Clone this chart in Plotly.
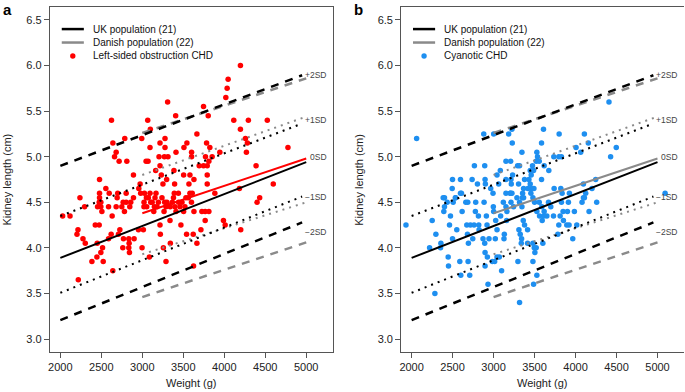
import plotly.graph_objects as go

# ---------------- data ----------------
# Panel a: Left-sided obstruction CHD (weight g, kidney length cm)
a_weight = [4197, 4047, 4035, 4019, 3309, 3747, 3804, 3407, 2624, 3066, 4116, 4294, 4525, 4197, 3098,
            3666, 2641, 2786, 2993, 3277, 3216, 3544, 3784, 4258, 4282, 2681, 2661, 2717, 2811, 3094,
            3277, 3508, 3824, 4777, 4270, 3946, 3411, 3204, 3269, 3313, 3601, 3771, 3852, 3601, 3046,
            3070, 3216, 3812, 3694, 3747, 3792, 4388, 3386, 3163, 2892, 3232, 3504, 3581, 3792, 3297,
            2478, 2973, 2957, 3394, 3630, 3569, 3792, 3252, 2555, 4185, 4598,
            2478, 2596, 2803, 3026, 3094, 3167, 3390, 3581, 3609, 3885,
            2239, 2478, 2693, 2892, 3074, 3155, 3532, 3561, 4432,
            2474, 2494, 2766, 2803, 2859, 3021, 3103, 3196, 3273, 3366, 3443, 3484, 4400,
            2296, 2454, 2494, 2588, 2681, 2847, 3054, 3147, 3289, 3398, 3459,
            2507, 2782, 3265, 3411, 3504, 3630, 3727, 3767, 3812,
            2028, 2118, 2632,
            3338, 3767, 3990,
            2426, 2474, 3216, 3471, 4011,
            2215, 2726, 2953, 3013, 3715, 4201,
            2203, 2620, 2709, 3220, 3540, 3621,
            2276, 2588, 2770, 2835, 2900,
            2304, 2450, 2839, 3342, 3666,
            2515, 2762, 2835, 2997, 3257,
            2494, 2843,
            2446, 3086,
            2385, 2523, 3289,
            3625, 2640, 2219,
            3050, 3120, 3180, 3240, 3300, 3340, 3380, 3140, 3020, 3440, 3520, 3600, 2980, 2700, 2750]
a_length = [6.00, 5.85, 5.75, 5.65, 5.60, 5.55, 5.45, 5.45, 5.40, 5.40, 5.40, 5.40, 5.40, 5.30, 5.30,
            5.25, 5.15, 5.20, 5.20, 5.20, 5.15, 5.15, 5.15, 5.20, 5.15, 5.05, 5.00, 4.95, 4.95, 5.10,
            5.10, 5.10, 5.10, 5.10, 5.05, 5.05, 5.05, 5.00, 5.00, 5.00, 5.05, 5.00, 5.00, 5.00, 4.95,
            4.95, 4.90, 4.95, 4.90, 4.90, 4.90, 4.90, 4.85, 4.85, 4.80, 4.80, 4.80, 4.80, 4.80, 4.75,
            4.75, 4.70, 4.65, 4.70, 4.75, 4.70, 4.70, 4.70, 4.65, 4.65, 4.70,
            4.60, 4.60, 4.60, 4.60, 4.60, 4.60, 4.60, 4.60, 4.60, 4.60,
            4.55, 4.55, 4.55, 4.55, 4.55, 4.55, 4.55, 4.55, 4.55,
            4.50, 4.50, 4.50, 4.50, 4.50, 4.50, 4.50, 4.50, 4.50, 4.50, 4.50, 4.50, 4.50,
            4.45, 4.45, 4.45, 4.45, 4.45, 4.45, 4.45, 4.45, 4.45, 4.45, 4.45,
            4.40, 4.40, 4.40, 4.40, 4.40, 4.40, 4.40, 4.40, 4.40,
            4.35, 4.35, 4.35,
            4.30, 4.30, 4.30,
            4.25, 4.25, 4.25, 4.25, 4.25,
            4.20, 4.20, 4.20, 4.20, 4.20, 4.20,
            4.15, 4.15, 4.15, 4.15, 4.15, 4.15,
            4.10, 4.10, 4.10, 4.10, 4.10,
            4.05, 4.05, 4.05, 4.05, 4.05,
            4.00, 4.00, 4.00, 4.00, 4.00,
            3.95, 3.95,
            3.90, 3.90,
            3.85, 3.85, 3.85,
            3.80, 3.75, 3.65,
            4.55, 4.50, 4.45, 4.55, 4.50, 4.45, 4.55, 4.40, 4.45, 4.60, 4.45, 4.50, 4.60, 4.60, 4.45]

# Panel b: Cyanotic CHD
b_weight = [4408, 2061, 2880, 3001, 3184, 3224, 3609, 3800, 4108, 3228, 3585, 4156, 4006, 4497, 4428,
            4063, 3346, 3528, 3536, 3735, 3796, 3828, 2766, 2892, 3151, 3208, 3520, 3557, 3475, 3617,
            3293, 3317, 3447, 3488, 3674, 3082, 3042, 3232, 3459, 3431, 3585, 2499, 2596, 2738, 2896,
            2900, 2803, 2965, 3062, 3151, 3212, 3216, 3305, 3378, 3366, 3447, 3459, 3492, 3739, 3820,
            4096, 4246, 4201, 2495, 2596, 3151, 3204, 3224, 3354, 3419, 3836, 5093, 2401, 2535, 3350,
            4108,
            1931, 2251, 2219, 2296, 2284, 2357, 2353, 2393, 2401, 2385, 2434, 2446, 2450, 2462, 2474,
            2507, 2535, 2551, 2499, 2588, 2600, 2608, 2616, 2661, 2673, 2685, 2689, 2709, 2681, 2693,
            2717, 2746, 2762, 2782, 2778, 2815, 2819, 2823, 2871, 2892, 2896, 2884, 2912, 2920, 2944,
            2896, 2932, 2924, 2985, 3013, 3042, 3070, 2993, 2997, 3001, 3026, 3042, 3021, 3086, 3131,
            3127, 3098, 3119, 3151, 3163, 3159, 3204, 3212, 3244, 3285, 3317, 3346, 3366, 3309, 3325,
            3342, 3338, 3297, 3317, 3362, 3378, 3415, 3415, 3480, 3496, 3520, 3504, 3480, 3488, 3528,
            3455, 3480, 3500, 3528, 3561, 3593, 3613, 3557, 3589, 3617, 3650, 3670, 3698, 3731, 3601,
            3784, 3796, 3812, 3852, 3893, 3921, 3828, 3848, 3901, 3913, 3925, 3966, 3986, 4015, 4079,
            4096, 4124, 4165, 4258]
b_length = [5.60, 5.20, 5.25, 5.25, 5.25, 5.30, 5.30, 5.25, 5.25, 5.15, 5.15, 5.15, 5.10, 5.10, 5.00,
            5.05, 5.05, 5.05, 5.00, 5.00, 5.00, 5.00, 4.90, 4.90, 4.95, 4.95, 4.95, 4.95, 4.90, 4.90,
            4.90, 4.90, 4.85, 4.85, 4.85, 4.85, 4.80, 4.80, 4.80, 4.75, 4.75, 4.75, 4.75, 4.75, 4.75,
            4.70, 4.70, 4.65, 4.70, 4.75, 4.75, 4.70, 4.70, 4.75, 4.65, 4.70, 4.65, 4.65, 4.65, 4.65,
            4.70, 4.75, 4.65, 4.65, 4.60, 4.60, 4.60, 4.60, 4.60, 4.65, 4.60, 4.60, 4.55, 4.55, 4.55,
            4.55,
            4.25, 4.30, 4.00, 4.15, 3.50, 4.05, 4.00, 4.40, 4.45, 4.55, 4.50, 3.90, 3.80, 4.25, 4.35,
            4.50, 4.55, 4.20, 4.10, 3.85, 3.70, 4.60, 4.40, 4.50, 4.25, 4.50, 3.85, 3.70, 4.15, 4.05,
            4.25, 4.10, 4.25, 4.50, 4.40, 4.35, 4.25, 4.20, 4.10, 4.05, 3.95, 4.50, 4.35, 4.25, 4.10,
            3.80, 3.60, 3.90, 3.85, 3.85, 3.90, 3.90, 4.60, 4.45, 4.40, 4.30, 4.20, 4.10, 4.35, 4.15,
            4.10, 3.75, 4.50, 4.45, 4.40, 4.30, 4.60, 4.50, 4.45, 4.55, 4.50, 4.45, 4.55, 4.20, 4.15,
            4.10, 4.05, 3.85, 3.40, 4.30, 4.25, 4.20, 4.05, 4.05, 4.00, 4.00, 3.95, 3.85, 3.60, 3.70,
            4.60, 4.55, 4.50, 4.40, 4.35, 4.30, 4.35, 4.50, 4.45, 4.40, 4.35, 4.50, 4.45, 4.35, 4.05,
            4.15, 4.25, 4.35, 4.30, 4.25, 4.25, 4.50, 4.40, 4.40, 4.50, 4.60, 4.10, 4.40, 4.25, 4.50,
            4.55, 4.60, 4.40, 4.50]

# Reference curves: UK population (21)
uk_w = [2000, 4950]
uk_0_w = [2000, 5000]
uk_p2 = [4.90, 5.894]
uk_p1 = [4.35, 5.364]
uk_0 = [3.89, 4.94]
uk_m1 = [3.507, 4.563]
uk_m2 = [3.207, 4.279]
# Reference curves: Danish population (22)
dk_w = [3000, 5000]
dk_p2 = [5.26, 5.86]
dk_p1 = [4.80, 5.44]
dk_0 = [4.38, 4.98]
dk_m1 = [3.93, 4.50]
dk_m2 = [3.46, 4.06]

sd_labels = ["+2SD", "+1SD", "0SD", "\u22121SD", "\u22122SD"]
sd_label_y = [5.90, 5.40, 5.00, 4.555, 4.17]
x_ticks = [2000, 2500, 3000, 3500, 4000, 4500, 5000]
y_ticks = [3.0, 3.5, 4.0, 4.5, 5.0, 5.5, 6.0, 6.5]

panels = [
    dict(w=a_weight, l=a_length, color="#ff0000", dk0_color="#ff0000", name="Left-sided obstruction CHD", letter="a"),
    dict(w=b_weight, l=b_length, color="#1e8ff0", dk0_color="#8a8a8a", name="Cyanotic CHD", letter="b"),
]

FONT = "Liberation Sans, Arial, Helvetica, sans-serif"
BLACK = "#000000"
GRAY = "#8a8a8a"
DOT = "2px,5px"
DASH = "8px,7px"

W, H = 685, 392
dom_x = [[48 / W, 332 / W], [400.3 / W, 684.3 / W]]
dom_y = [1 - 352 / H, 1 - 7 / H]

fig = go.Figure()
annotations = []
shapes = []

for i, p in enumerate(panels):
    xa = "x" if i == 0 else "x2"
    ya = "y" if i == 0 else "y2"
    # points
    fig.add_trace(go.Scatter(x=p["w"], y=p["l"], mode="markers", xaxis=xa, yaxis=ya,
                             marker=dict(color=p["color"], size=5.5, line=dict(width=0)),
                             showlegend=False, hoverinfo="skip"))
    # Danish lines (gray)
    for vals, dash, col in [(dk_p2, DASH, GRAY), (dk_p1, DOT, GRAY), (dk_0, "solid", p["dk0_color"]),
                            (dk_m1, DOT, GRAY), (dk_m2, DASH, GRAY)]:
        fig.add_trace(go.Scatter(x=dk_w, y=vals, mode="lines", xaxis=xa, yaxis=ya,
                                 line=dict(color=col, width=2.5 if dash == DASH else 2, dash=dash),
                                 showlegend=False, hoverinfo="skip"))
    # UK lines (black)
    for xs, vals, dash in [(uk_w, uk_p2, DASH), (uk_w, uk_p1, DOT), (uk_0_w, uk_0, "solid"),
                           (uk_w, uk_m1, DOT), (uk_w, uk_m2, DASH)]:
        fig.add_trace(go.Scatter(x=xs, y=vals, mode="lines", xaxis=xa, yaxis=ya,
                                 line=dict(color=BLACK, width=2.5 if dash == DASH else 2, dash=dash),
                                 showlegend=False, hoverinfo="skip"))
    # SD labels
    for txt, yy in zip(sd_labels, sd_label_y):
        annotations.append(dict(x=5280, y=yy, xref=xa, yref=ya, text=txt, showarrow=False,
                                xanchor="right", yanchor="middle",
                                font=dict(family=FONT, size=8.5, color="#444444")))
    # manual legend
    dx = xa + " domain"
    dy = ya + " domain"
    ys = [0.936, 0.897, 0.858]
    shapes.append(dict(type="line", xref=dx, yref=dy, x0=0.042, x1=0.120, y0=ys[0], y1=ys[0],
                       line=dict(color=BLACK, width=2.5)))
    shapes.append(dict(type="line", xref=dx, yref=dy, x0=0.042, x1=0.120, y0=ys[1], y1=ys[1],
                       line=dict(color=GRAY, width=2.5)))
    for txt, yy in zip(["UK population (21)", "Danish population (22)", p["name"]], ys):
        annotations.append(dict(x=0.144, y=yy, xref=dx, yref=dy, text=txt, showarrow=False,
                                xanchor="left", yanchor="middle",
                                font=dict(family=FONT, size=10, color="#111111")))
    shapes.append(dict(type="circle", xref=dx, yref=dy, x0=0.081 - 0.0095, x1=0.081 + 0.0095,
                       y0=ys[2] - 0.0078, y1=ys[2] + 0.0078, fillcolor=p["color"], line=dict(width=0)))
    # axis titles
    cx = (dom_x[i][0] + dom_x[i][1]) / 2
    annotations.append(dict(x=cx, y=1 - 383 / H, xref="paper", yref="paper", text="Weight (g)",
                            showarrow=False, xanchor="center", yanchor="middle",
                            font=dict(family=FONT, size=11, color="#222222")))
    annotations.append(dict(x=(dom_x[i][0] * W - 43) / W, y=(dom_y[0] + dom_y[1]) / 2, xref="paper",
                            yref="paper", text="Kidney length (cm)", textangle=-90, showarrow=False,
                            xanchor="center", yanchor="middle",
                            font=dict(family=FONT, size=11, color="#222222")))
    annotations.append(dict(x=(dom_x[i][0] * W - 48) / W, y=1, xref="paper", yref="paper",
                            text="<b>" + p["letter"] + "</b>", showarrow=False,
                            xanchor="left", yanchor="top", borderpad=0,
                            font=dict(family=FONT, size=15, color="#000000")))

axis_common = dict(showgrid=False, zeroline=False, showline=True, linecolor="#555555", linewidth=1,
                   ticks="outside", ticklen=5, tickcolor="#555555", tickwidth=1,
                   tickfont=dict(family=FONT, size=11, color="#222222"))

layout_axes = {}
for i in range(2):
    sfx = "" if i == 0 else "2"
    layout_axes["xaxis" + sfx] = dict(axis_common, domain=dom_x[i], range=[1872, 5327],
                                      tickvals=x_ticks, ticktext=[str(v) for v in x_ticks],
                                      anchor="y" + sfx, mirror=True)
    layout_axes["yaxis" + sfx] = dict(axis_common, domain=dom_y, range=[2.8575, 6.6425],
                                      tickvals=y_ticks, ticktext=["%.1f" % v for v in y_ticks],
                                      anchor="x" + sfx, mirror=(i == 0))

fig.update_layout(width=W, height=H, margin=dict(l=0, r=0, t=0, b=0),
                  paper_bgcolor="white", plot_bgcolor="white",
                  annotations=annotations, shapes=shapes, showlegend=False, **layout_axes)

fig.write_html("out.html", config={"displayModeBar": False, "staticPlot": True},
               post_script="document.body.style.margin='0';document.body.style.overflow='hidden';")
